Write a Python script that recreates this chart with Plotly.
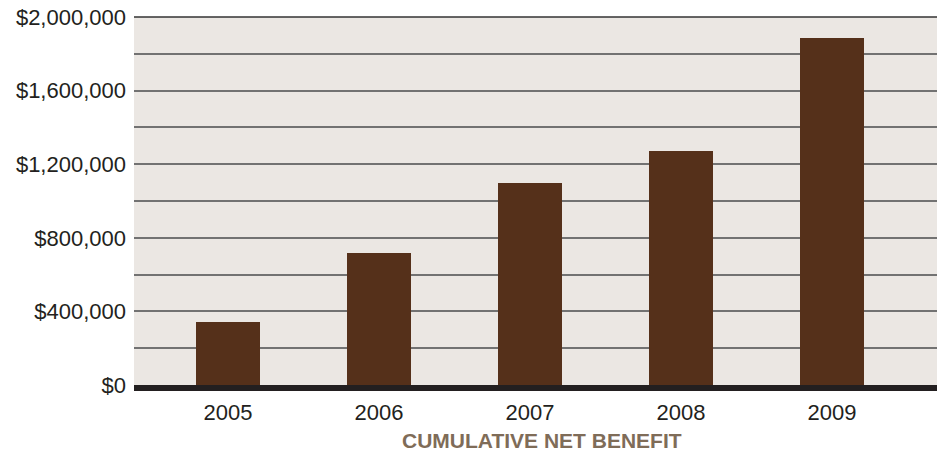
import plotly.graph_objects as go

years = ["2005", "2006", "2007", "2008", "2009"]
net_benefit = [342000, 718000, 1098000, 1272000, 1886000]
tick_values = [0, 200000, 400000, 600000, 800000, 1000000, 1200000, 1400000, 1600000, 1800000, 2000000]
tick_labels = ["$0", "", "$400,000", "", "$800,000", "", "$1,200,000", "", "$1,600,000", "", "$2,000,000"]
x_title = "CUMULATIVE NET BENEFIT"

FONT = "Liberation Sans, Arial, sans-serif"

fig = go.Figure()
fig.add_trace(go.Bar(
    x=list(range(len(years))), y=net_benefit,
    marker=dict(color="#55301a", line=dict(width=0)),
    width=0.424,
))

fig.update_layout(
    width=937, height=452,
    margin=dict(l=134, r=0, t=17, b=67),
    paper_bgcolor="white",
    plot_bgcolor="#ebe7e3",
    showlegend=False,
    font=dict(family=FONT, size=22, color="#231f20"),
    bargap=0,
)
fig.update_xaxes(
    range=[-0.6225, 4.695], automargin=False,
    tickmode="array", tickvals=list(range(len(years))), ticktext=years,
    showgrid=False, zeroline=False, showline=False,
    ticks="", ticklabelstandoff=12,
    tickfont=dict(size=22, color="#231f20"),
    title=dict(text=""),
)
fig.update_yaxes(
    range=[0, 2000000], automargin=False,
    tickmode="array", tickvals=tick_values, ticktext=tick_labels,
    showgrid=True, gridcolor="#727272", gridwidth=1.5,
    zeroline=False, showline=False, ticks="",
    ticklabelstandoff=7,
    tickfont=dict(size=22, color="#231f20"),
)
# top border line (darker)
fig.add_shape(type="line", xref="paper", yref="paper", x0=0, x1=1, y0=1, y1=1,
              line=dict(color="#333333", width=1.5))
# thick baseline below zero
fig.add_shape(type="rect", xref="paper", yref="paper", ysizemode="pixel", yanchor=0,
              x0=0, x1=1, y0=0, y1=-6, fillcolor="#231f20", line=dict(width=0))
fig.add_annotation(text="<b>" + x_title + "</b>", xref="paper", yref="paper",
                   x=0.508, y=0, yshift=-55, showarrow=False, yanchor="middle",
                   font=dict(family=FONT, size=21, color="#7f6c58"))

fig.write_html("out.html")
